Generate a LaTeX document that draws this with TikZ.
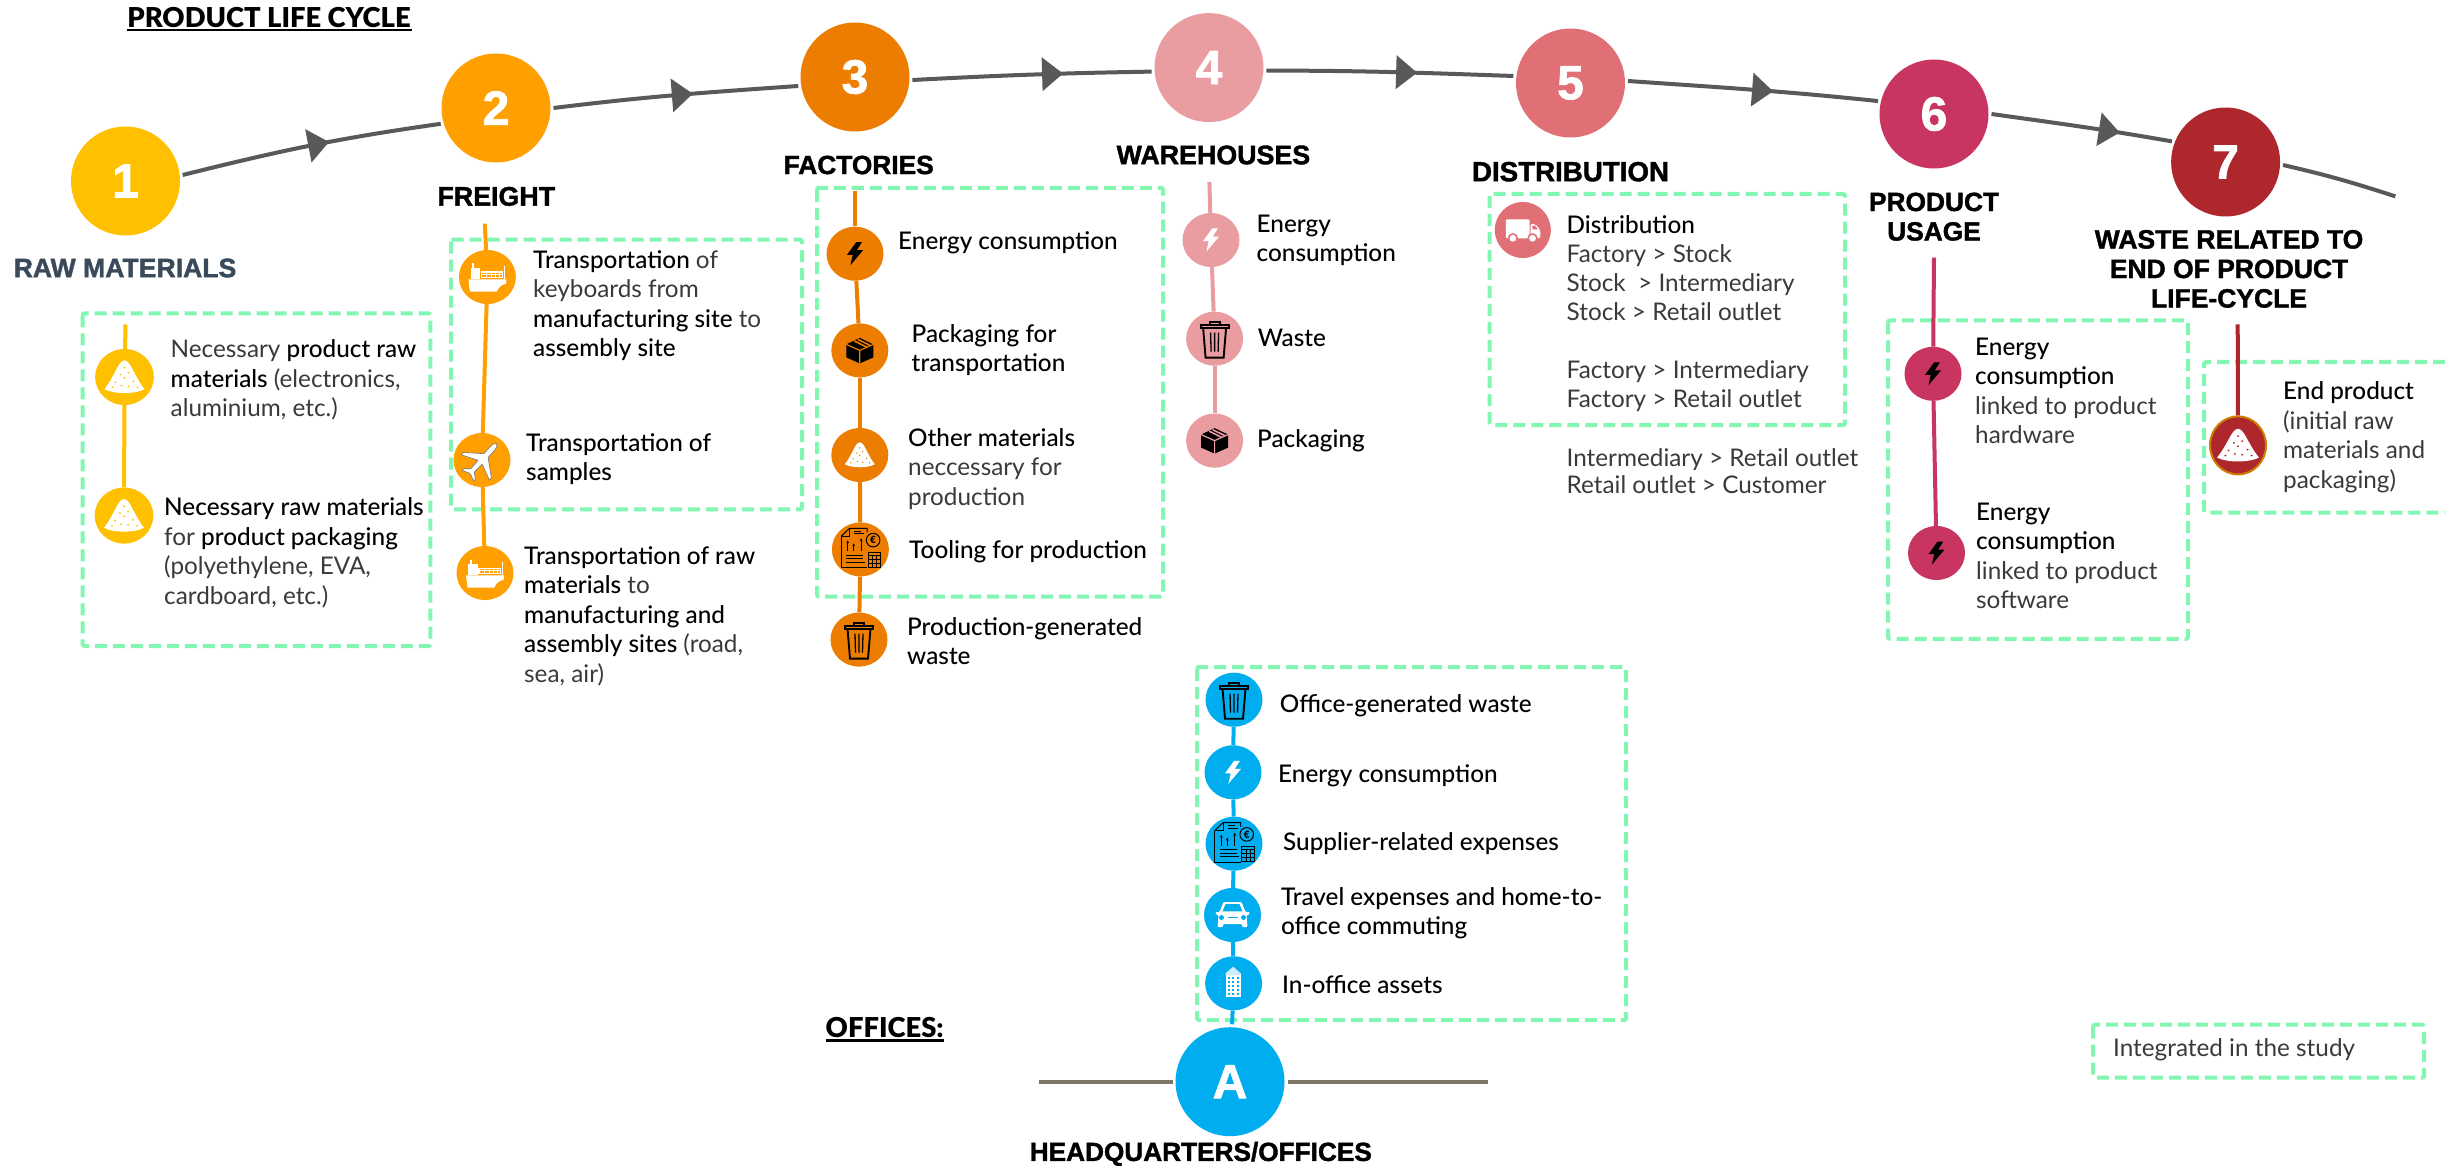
\documentclass[tikz,border=0pt]{standalone}
\usepackage{fontspec}
\usetikzlibrary{arrows.meta,decorations.markings,shapes.geometric}
\setmainfont{Lato}
\newfontfamily\medf{Lato Medium}
\newfontfamily\regf{Lato}
\newfontfamily\hdf[BoldFont={Liberation Sans Bold},BoldFeatures={FakeBold=1.5}]{Liberation Sans}
\definecolor{arcc}{HTML}{595959}
\definecolor{boxc}{HTML}{84F6B4}
\definecolor{c1c}{HTML}{FFC000}
\definecolor{c2c}{HTML}{FF9F00}
\definecolor{c3c}{HTML}{ED7D00}
\definecolor{c4c}{HTML}{E99DA1}
\definecolor{c5c}{HTML}{E07075}
\definecolor{c6c}{HTML}{C83560}
\definecolor{c7c}{HTML}{AE272D}
\definecolor{cAc}{HTML}{00AEEF}
\definecolor{slatec}{HTML}{3B4A5A}
\definecolor{bodyc}{HTML}{3A3A3A}
\definecolor{hqline}{HTML}{7F7567}
\newcommand\hl[1]{{\color{black}\medf #1}}
\newcommand\hdsize[1]{\fontsize{#1}{29.5}\hdf\bfseries}
\tikzset{
 mainc/.style={circle,minimum size=109pt,inner sep=0pt,outer sep=3pt,fill=#1,text=white,font=\fontsize{48}{50}\hdf\bfseries},
 ic/.style={ellipse,minimum width=57pt,minimum height=54pt,inner sep=0pt,fill=#1},
 flow/.style={color=arcc,line width=4pt,postaction={decorate},decoration={markings,mark=at position #1 with {\arrow{Triangle[length=21pt,width=33pt]}}}},
 plainflow/.style={color=arcc,line width=4pt},
 stem/.style={draw=#1,line width=4pt},
 studybox/.style={draw=boxc,line width=4pt,dash pattern=on 12pt off 6pt,rounded corners=2pt},
 bodytxt/.style={anchor=north west,inner sep=0pt,align=left,yshift=20.65pt,text=bodyc,font=\fontsize{24.3}{29.5}\regf},
 head/.style={inner sep=0pt,align=center,text=black,font=\hdsize{#1}},
 title/.style={inner sep=0pt,text=black,font=\fontsize{27.4}{30}\medf\bfseries},
}
\newcommand\tb[4]{\node[bodytxt] (#1) at (#2,-#3) {\strut #4};}
\newcommand\icBolt[2]{\fill[#2,shift={(#1.center)},scale=1.15] (1,10)--(-7,-1)--(-2,-1)--(-4,-10)--(7,3)--(1.5,3)--(6,10)--cycle;}
\newcommand\icPile[4]{\begin{scope}[shift={(#1.center)},xscale=#2,yscale=#3]
 \fill[white] (-1,-.72) .. controls (-.55,-.05) and (-.35,.75) .. (-.12,.92) .. controls (-.05,1) and (.05,1) .. (.12,.92) .. controls (.35,.75) and (.55,-.05) .. (1,-.72) .. controls (.5,-1.02) and (-.5,-1.02) .. (-1,-.72) -- cycle;
 \foreach \p in {(0,.55),(-.2,.15),(.2,.25),(0,-.05),(-.45,-.3),(.45,-.25),(-.15,-.5),(.2,-.55),(-.6,-.6),(.65,-.6)}{\fill[#4] \p circle[radius=.055];}
\end{scope}}
\newcommand\icShip[2]{\begin{scope}[shift={(#1.center)}]
 \fill[white] (-19,-2.3)--(19,-2.3)--(18.7,-6.7) .. controls (13,-8) and (11,-11) .. (9.3,-14.7)--(-17.5,-14.7)--cycle;
 \fill[white] (-16.7,-2.3) rectangle (-7.3,9.3);
 \fill[white] (-15,9) rectangle (-13,13.5);
 \fill[white] (17,-2.3) rectangle (18,11);
 \fill[white] (-6.7,-1) rectangle (16,5.5);
 \fill[#2] (-5.5,0) rectangle (15,1.6);
 \fill[#2] (-5.5,2.6) rectangle (15,4.4);
 \foreach \x in {-1,3.5,8,12}{\fill[white] (\x,-1) rectangle (\x+.9,5.5);}
\end{scope}}
\newcommand\icPlane[1]{\begin{scope}[shift={(#1.center)},rotate=48]
 \filldraw[fill=white,draw=black!55,line width=.6pt] (22,0) .. controls (21,2) and (19,2.8) .. (16,2.8)--(6,2.8)--(-7,19)--(-10,19)--(-3,2.8)--(-14,2.4)--(-19,8)--(-21,8)--(-18,0)--(-21,-8)--(-19,-8)--(-14,-2.4)--(-3,-2.8)--(-10,-19)--(-7,-19)--(6,-2.8)--(16,-2.8) .. controls (19,-2.8) and (21,-2) .. (22,0)--cycle;
\end{scope}}
\newcommand\icBox[2]{\begin{scope}[shift={(#1.center)}]
 \fill[black] (0,12.5)--(13.5,6)--(13.5,-7)--(0,-13)--(-13.5,-7)--(-13.5,6)--cycle;
 \draw[#2,line width=1.2pt] (-13.5,6)--(0,0)--(13.5,6) (0,0)--(0,-13);
 \draw[#2,line width=1.6pt] (-5.5,9.5)--(7,3.2) (-2,11)--(10.5,4.8);
\end{scope}}
\newcommand\icTrash[1]{\begin{scope}[shift={(#1.center)},line width=1.9pt,black]
 \draw (-14,11)--(-14,13.5)--(14,13.5)--(14,11)--cycle;
 \draw (-5,13.5)--(-5,17)--(5,17)--(5,13.5);
 \draw (-11.5,11)--(-9,-19)--(9,-19)--(11.5,11);
 \draw[line width=1.3pt] (-4,6)--(-3.5,-13) (0,6)--(0,-13) (4,6)--(3.5,-13);
\end{scope}}
\newcommand\icDoc[1]{\begin{scope}[shift={(#1.center)},black,line width=1pt]
 \draw (-19.3,13)--(-11,21)--(6.7,21)--(6.7,17);
 \draw (-19.3,13)--(-19.3,-18.3)--(6.7,-18.3);
 \draw (-11,21)--(-11,13)--(-19.3,13);
 \draw (-6,18)--(1,18) (-6,15.5)--(4,15.5);
 \draw[-{Stealth[length=3pt,width=3pt]}] (-12.7,-2)--(-12.7,9);
 \draw[-{Stealth[length=3pt,width=3pt]}] (-6.7,-2)--(-6.7,6);
 \draw[-{Stealth[length=3pt,width=3pt]}] (.7,-2)--(.7,11);
 \draw (-14,-6)--(3,-6) (-14,-9.5)--(3,-9.5) (-14,-13)--(5,-13);
 \draw (12.7,9.3) circle[radius=6.8];
 \node[inner sep=0pt,font=\fontsize{10}{10}\medf\bfseries] (#1e) at (12.7,9.3) {€};
 \draw (7.7,-2.7) rectangle (20,-17.7);
 \draw[line width=.5pt] (7.7,-6)--(20,-6) (7.7,-9.5)--(20,-9.5) (7.7,-13.5)--(20,-13.5) (11.8,-6)--(11.8,-17.7) (15.9,-6)--(15.9,-17.7);
\end{scope}}
\newcommand\icTruck[1]{\begin{scope}[shift={(#1.center)}]
 \fill[white,rounded corners=1pt] (-17,-8.3) rectangle (6.7,10.7);
 \fill[white,rounded corners=2pt] (7.7,-8.3)--(7.7,6)--(12.5,6)--(17.5,0)--(17.5,-8.3)--cycle;
 \fill[c5c] (9.5,4.3)--(12.3,4.3)--(15,.7)--(9.5,.7)--cycle;
 \foreach \x in {-10,9.7}{\fill[c5c] (\x,-8.3) circle[radius=5.2]; \fill[white] (\x,-8.3) circle[radius=3.4];}
\end{scope}}
\newcommand\icCar[1]{\begin{scope}[shift={(#1.center)}]
 \fill[white,rounded corners=1pt] (-9,13)--(9,13)--(13,3)--(17,3)--(17,1)--(14,-.5)--(15,-12)--(9.5,-12)--(9.5,-9)--(-9.5,-9)--(-9.5,-12)--(-15,-12)--(-14,-.5)--(-17,1)--(-17,3)--(-13,3)--cycle;
 \fill[cAc] (-7,10.8)--(7,10.8)--(10,3.6)--(-10,3.6)--cycle;
 \fill[cAc] (-11,-2.5) circle[radius=2.5] (11,-2.5) circle[radius=2.5];
 \fill[cAc] (-5,-3.4) rectangle (5,-1.6);
\end{scope}}
\newcommand\icBuilding[1]{\begin{scope}[shift={(#1.center)}]
 \fill[white] (-8,-14) rectangle (7,10);
 \fill[cAc!20] (-8,10)--(-.5,16.7)--(7,10)--(7,8)--(-8,8)--cycle;
 \foreach \y in {-12,-8,-4,0,4}{\foreach \x in {-5,-.5,4}{\fill[cAc] (\x-1,\y) rectangle (\x+1,\y+2);}}
\end{scope}}
\begin{document}
\begin{tikzpicture}[x=1pt,y=1pt]
\fill[white,use as bounding box] (0,0) rectangle (2445,-1166);
% study boxes
\draw[studybox] (82.6,-313.4) rectangle (430.4,-646);
\draw[studybox] (451,-239.7) rectangle (802,-509.4);
\draw[studybox] (817,-187.8) rectangle (1163,-596.7);
\draw[studybox] (1489.5,-194) rectangle (1845,-425);
\draw[studybox] (1888,-320.5) rectangle (2188,-638.8);
\draw[studybox] (2445,-362)--(2204,-362)--(2204,-512.6)--(2445,-512.6);
\draw[studybox] (1197,-667) rectangle (1626,-1020);
\draw[studybox] (2093,-1024.7) rectangle (2424,-1077.7);
% main circles
\node[mainc=c1c] (c1) at (125.5,-181) {1};
\node[mainc=c2c] (c2) at (496,-108) {2};
\node[mainc=c3c] (c3) at (855,-77) {3};
\node[mainc=c4c] (c4) at (1209,-67.6) {4};
\node[mainc=c5c] (c5) at (1570.5,-83) {5};
\node[mainc=c6c] (c6) at (1934,-114) {6};
\node[mainc=c7c] (c7) at (2225.6,-162) {7};
\node[mainc=cAc] (cA) at (1230,-1081.7) {A};
\coordinate (arcend) at (2395.4,-196.4);
\coordinate (hqL) at (1039,-1081.7);
\coordinate (hqR) at (1487.8,-1081.7);
\draw[flow=.57] (c1.6) to[out=14,in=188] (c2.196.7);
\draw[flow=.57] (c2.0) to[out=7,in=184] (c3.189);
\draw[flow=.63] (c3.357) to[out=3,in=181] (c4.184);
\draw[flow=.61] (c4.357) to[out=0,in=178] (c5.173);
\draw[flow=.58] (c5.2) to[out=-4,in=174] (c6.167.4);
\draw[flow=.71] (c6.0) to[out=-8,in=170] (c7.159.5);
\draw[plainflow] (c7.357) to[out=-13,in=162] (arcend);
\draw[line width=4pt,hqline] (hqL)--(cA.180);
\draw[line width=4pt,hqline] (cA.0)--(hqR);
% headings
\node[title] (tlife) at (269,-18) {PRODUCT LIFE CYCLE};
\draw[line width=2.5pt] (126.6,-30)--(411.6,-30);
\node[title] (toff) at (884.7,-1028) {OFFICES:};
\draw[line width=2.5pt] (825.5,-1040.7)--(944,-1040.7);
\node[head=26.6,text=slatec] (hraw) at (125,-268) {RAW MATERIALS};
\node[head=26.8] (hfre) at (496.3,-196.4) {FREIGHT};
\node[head=26.3] (hfac) at (858.7,-165) {FACTORIES};
\node[head=26.8] (hwar) at (1213.4,-155) {WAREHOUSES};
\node[head=27.7] (hdis) at (1570.5,-171.7) {DISTRIBUTION};
\node[head=26.3] (huse) at (1934,-216.7) {PRODUCT\\USAGE};
\node[head=26.5] (hwas) at (2229,-268.9) {WASTE RELATED TO\\END OF PRODUCT\\LIFE-CYCLE};
\node[head=26.2] (hhq) at (1200.8,-1154) {HEADQUARTERS/OFFICES};
% raw materials
\coordinate (rtop) at (125.5,-324.5);
\node[ic=c1c,minimum width=58.6pt,minimum height=56pt] (r1) at (124.5,-377) {};
\node[ic=c1c,minimum width=58.6pt,minimum height=56pt] (r2) at (124,-515.6) {};
\draw[stem=c1c] (rtop)--(r1);
\draw[stem=c1c] (r1)--(r2);
\icPile{r1}{20}{17}{c1c}
\icPile{r2}{20}{17}{c1c}
\tb{t11}{170.5}{357.5}{Necessary \hl{product raw}\\\hl{materials} (electronics,\\aluminium, etc.)}
\tb{t12}{164}{515.6}{\hl{Necessary raw materials}\\for \hl{product packaging}\\(polyethylene, EVA,\\cardboard, etc.)}
% freight
\coordinate (ftop) at (484.8,-223.6);
\node[ic=c2c] (f1) at (487.4,-277) {};
\node[ic=c2c] (f2) at (482,-460) {};
\node[ic=c2c] (f3) at (485,-573) {};
\draw[stem=c2c] (ftop)--(f1);
\draw[stem=c2c] (f1)--(f2);
\draw[stem=c2c] (f2)--(f3);
\icShip{f1}{c2c}
\icPlane{f2}
\icShip{f3}{c2c}
\tb{t21}{533}{268}{\hl{Transportation} of\\keyboards from\\\hl{manufacturing site} to\\\hl{assembly site}}
\tb{t22}{526}{451}{\hl{Transportation of}\\\hl{samples}}
\tb{t23}{524}{564}{\hl{Transportation of raw}\\\hl{materials} to\\\hl{manufacturing and}\\\hl{assembly sites} (road,\\sea, air)}
% factories
\coordinate (gtop) at (855,-191);
\node[ic=c3c] (g1) at (855,-253.7) {};
\node[ic=c3c] (g2) at (859.8,-350.4) {};
\node[ic=c3c] (g3) at (859.8,-455) {};
\node[ic=c3c] (g4) at (860.4,-549.4) {};
\node[ic=c3c] (g5) at (859,-639.6) {};
\draw[stem=c3c] (gtop)--(g1);
\draw[stem=c3c] (g1)--(g2);
\draw[stem=c3c] (g2)--(g3);
\draw[stem=c3c] (g3)--(g4);
\draw[stem=c3c] (g4)--(g5);
\icBolt{g1}{black}
\icBox{g2}{c3c}
\icPile{g3}{15}{13}{c3c}
\icDoc{g4}
\icTrash{g5}
\tb{t31}{898}{249}{\hl{Energy consumption}}
\tb{t32}{911.5}{342}{\hl{Packaging for}\\\hl{transportation}}
\tb{t33}{908}{446}{\hl{Other materials}\\neccessary for\\production}
\tb{t34}{909}{558}{\hl{Tooling for production}}
\tb{t35}{907}{635}{\hl{Production-generated}\\\hl{waste}}
% warehouses
\coordinate (wtop) at (1209.4,-182);
\node[ic=c4c] (w1) at (1211,-240) {};
\node[ic=c4c] (w2) at (1214.6,-338.7) {};
\node[ic=c4c] (w3) at (1214.6,-440.6) {};
\draw[stem=c4c] (wtop)--(w1);
\draw[stem=c4c] (w1)--(w2);
\draw[stem=c4c] (w2)--(w3);
\icBolt{w1}{white}
\icTrash{w2}
\icBox{w3}{c4c}
\tb{t41}{1256.5}{232}{\hl{Energy}\\\hl{consumption}}
\tb{t42}{1257.6}{346.7}{\hl{Waste}}
\tb{t43}{1257}{447}{\hl{Packaging}}
% distribution
\node[ic=c5c,minimum width=56pt,minimum height=56pt] (d1) at (1522.8,-230) {};
\icTruck{d1}
\tb{t51}{1566.5}{233.5}{\hl{Distribution}\\[-.5pt]Factory > Stock\\[-.5pt]Stock\ \ > Intermediary\\[-.5pt]Stock > Retail outlet\\[-.5pt]~\\[-.5pt]Factory > Intermediary\\[-.5pt]Factory > Retail outlet}
\tb{t52}{1566.5}{466}{Intermediary > Retail outlet\\[-2pt]Retail outlet > Customer}
% usage
\coordinate (utop) at (1934,-257.6);
\node[ic=c6c] (u1) at (1933,-373.8) {};
\node[ic=c6c] (u2) at (1936.5,-553) {};
\draw[stem=c6c] (utop)--(u1);
\draw[stem=c6c] (u1)--(u2);
\icBolt{u1}{black}
\icBolt{u2}{black}
\tb{t61}{1975}{355}{\hl{Energy}\\\hl{consumption}\\linked to product\\hardware}
\tb{t62}{1976}{520}{\hl{Energy}\\\hl{consumption}\\linked to product\\software}
% end
\coordinate (etop) at (2237.7,-324.4);
\node[ic=c7c,draw=c2c!80!black,line width=2pt,minimum width=56pt,minimum height=58pt] (e1) at (2238,-445.4) {};
\draw[line width=4pt,c7c] (etop)--(e1);
\icPile{e1}{21}{17}{c7c}
\tb{t71}{2283}{399.6}{\hl{End product}\\(initial raw\\materials and\\packaging)}
% offices
\node[ic=cAc] (a1) at (1234,-699.7) {};
\node[ic=cAc] (a2) at (1233,-772.3) {};
\node[ic=cAc] (a3) at (1234,-843.7) {};
\node[ic=cAc] (a4) at (1232.5,-915) {};
\node[ic=cAc] (a5) at (1233.6,-983.3) {};
\draw[stem=cAc] (a1)--(a2);
\draw[stem=cAc] (a2)--(a3);
\draw[stem=cAc] (a3)--(a4);
\draw[stem=cAc] (a4)--(a5);
\draw[stem=cAc] (a5)--(cA);
\icTrash{a1}
\icBolt{a2}{white}
\icDoc{a3}
\icCar{a4}
\icBuilding{a5}
\tb{t81}{1279.7}{712}{\hl{Office-generated waste}}
\tb{t82}{1278}{782}{\hl{Energy consumption}}
\tb{t83}{1283}{850}{\hl{Supplier-related expenses}}
\tb{t84}{1280.8}{905}{\hl{Travel expenses and home-to-}\\\hl{office commuting}}
\tb{t85}{1282}{993.7}{\hl{In-office assets}}
\tb{t91}{2113}{1056}{Integrated in the study}
\end{tikzpicture}
\end{document}
